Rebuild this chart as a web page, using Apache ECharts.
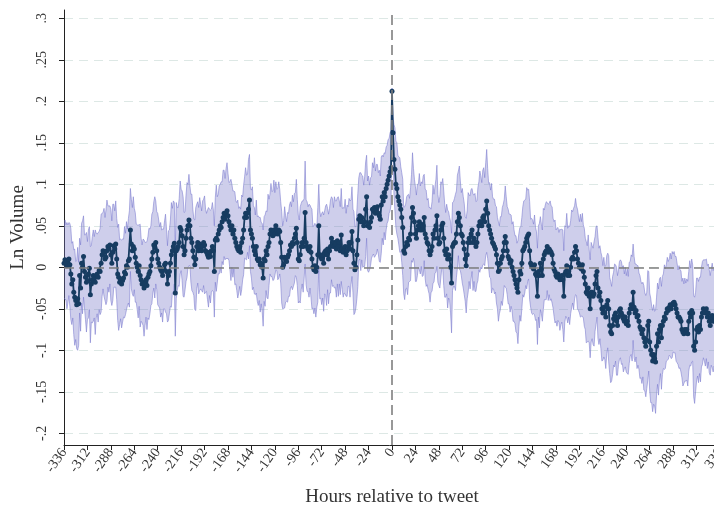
<!DOCTYPE html>
<html><head><meta charset="utf-8">
<script src="https://cdn.jsdelivr.net/npm/echarts@6/dist/echarts.min.js"></script>
<style>html,body{margin:0;padding:0;background:#fff}#chart{width:714px;height:513px}</style>
</head><body><div id="chart"></div>
<script>
// first hour of the series (hours relative to tweet)
const firstHour = -336;

// point estimates, one per hour from -336 to 336
const lnVolume = [
 0.005,0.009,0.006,0.002,0.004,0.010,0.003,-0.008,-0.020,-0.015,
 -0.030,-0.036,-0.040,-0.045,-0.038,-0.044,-0.010,-0.025,0.005,0.000,
 0.013,-0.005,-0.012,-0.018,-0.016,-0.008,-0.001,-0.033,-0.020,-0.015,
 -0.010,-0.012,-0.018,-0.010,-0.008,-0.012,-0.004,-0.005,0.005,0.015,
 0.020,0.018,0.010,0.012,0.020,0.025,0.022,0.027,0.015,0.005,
 0.018,0.026,0.022,0.028,0.010,-0.008,-0.012,-0.018,-0.014,-0.020,
 -0.016,-0.013,-0.006,-0.008,0.002,0.000,0.008,0.010,0.045,0.028,
 0.020,0.025,0.022,0.012,0.005,0.000,-0.005,0.002,-0.010,-0.015,
 -0.020,-0.018,-0.025,-0.020,-0.015,-0.022,-0.012,-0.008,-0.005,0.002,
 0.010,0.018,0.027,0.024,0.030,0.020,0.010,0.005,0.000,-0.003,
 -0.005,-0.010,-0.002,0.003,0.005,-0.005,-0.020,-0.010,-0.005,0.005,
 0.015,0.020,0.025,0.029,-0.031,
 0.020,0.022,0.025,0.030,0.048,0.045,0.038,0.025,0.015,0.020,
 0.035,0.045,0.050,0.057,0.050,0.035,0.030,0.020,0.012,0.003,
 0.010,0.025,0.030,0.020,0.028,0.025,0.020,0.025,0.030,0.027,
 0.020,0.018,0.015,0.012,0.018,0.013,0.020,0.025,0.020,-0.005,
 0.033,0.035,0.033,0.040,0.045,0.050,0.048,0.055,0.060,0.065,
 0.058,0.065,0.068,0.062,0.055,0.050,0.045,0.050,0.040,0.045,
 0.035,0.030,0.025,0.022,0.020,0.025,0.018,0.030,0.035,0.045,
 0.060,0.065,0.060,0.065,0.070,0.081,0.045,0.040,0.035,0.025,
 0.020,0.015,0.025,0.010,0.008,0.010,0.003,0.005,0.000,-0.013,
 0.010,0.008,0.020,0.015,0.025,0.030,
 0.040,0.045,0.040,0.038,0.045,0.040,0.050,0.045,0.040,0.045,
 0.043,0.030,0.012,0.000,0.003,0.012,0.010,0.007,0.012,0.015,
 0.020,0.027,0.025,0.030,0.028,0.035,0.040,0.047,0.030,0.010,
 0.008,0.015,0.025,0.030,0.025,0.035,0.066,0.030,0.025,0.022,
 0.020,0.025,0.018,0.010,0.000,-0.003,0.002,-0.005,0.000,0.015,
 0.050,0.015,0.012,0.010,0.015,0.005,0.018,0.020,0.015,0.022,
 0.010,0.020,0.025,0.035,0.030,0.025,0.030,0.028,0.022,0.032,
 0.025,0.030,0.020,0.039,0.022,0.018,0.020,0.025,0.015,0.020,
 0.025,0.030,0.022,0.030,0.043,0.020,0.005,-0.003,0.000,0.015,
 0.033,0.058,0.062,0.055,0.060,0.055,0.050,0.055,0.070,0.085,
 0.050,0.052,0.048,0.055,0.060,0.070,0.068,0.072,0.065,0.070,
 0.073,0.065,
 0.062,0.058,0.075,0.085,0.080,0.090,0.085,0.095,0.100,0.105,
 0.110,0.115,0.120,0.212,0.162,0.130,0.118,0.100,0.095,0.085,
 0.080,0.075,0.070,0.060,0.048,0.020,0.017,0.025,0.030,0.027,
 0.035,0.033,0.040,0.060,0.072,0.065,0.055,0.040,0.035,0.045,
 0.050,0.055,0.045,0.052,0.045,0.050,0.060,0.040,0.035,0.030,
 0.028,0.020,0.015,0.020,0.025,0.040,0.035,0.045,0.050,0.062,
 0.035,0.028,0.030,0.045,0.050,0.053,0.035,0.020,0.015,0.022,
 0.010,0.015,0.010,0.000,-0.019,0.025,0.028,0.030,0.030,0.040,
 0.055,0.065,0.060,0.050,0.040,0.038,0.030,0.022,0.010,0.002,
 0.015,0.030,0.035,0.030,0.040,0.045,0.030,0.035,0.030,0.025,
 0.030,0.040,0.050,0.055,0.055,0.050,0.060,0.062,
 0.055,0.070,0.080,0.065,0.050,0.045,0.040,0.035,0.030,0.028,
 0.025,0.022,0.015,0.005,-0.005,-0.003,0.005,0.010,0.013,0.020,
 0.030,0.037,0.030,0.020,0.013,0.010,0.005,0.008,0.000,-0.005,
 -0.010,-0.015,-0.020,-0.025,-0.030,-0.015,-0.005,-0.008,0.005,0.020,
 0.022,0.025,0.030,0.035,0.038,0.040,0.020,0.005,0.002,0.000,
 -0.002,0.003,-0.008,-0.010,-0.035,-0.005,-0.010,0.005,-0.002,-0.010,
 0.010,0.015,0.018,0.020,0.025,0.018,0.022,0.020,0.018,0.015,
 0.005,-0.002,-0.005,-0.010,-0.012,-0.008,-0.012,-0.015,-0.012,-0.010,
 -0.015,-0.035,-0.008,-0.005,0.002,-0.010,-0.005,-0.010,0.000,0.010,
 0.012,0.010,0.018,0.025,0.020,0.010,0.005,0.000,0.002,-0.002,
 0.003,-0.005,-0.012,-0.020,-0.030,-0.032,-0.025,-0.035,-0.050,-0.030,
 -0.030,-0.035,-0.032,
 -0.020,-0.010,-0.005,-0.025,-0.035,-0.030,-0.040,-0.050,-0.055,-0.048,
 -0.055,-0.060,-0.045,-0.040,-0.050,-0.070,-0.078,-0.080,-0.070,-0.062,
 -0.058,-0.055,-0.065,-0.070,-0.060,-0.052,-0.050,-0.055,-0.058,-0.062,
 -0.065,-0.060,-0.068,-0.065,-0.070,-0.055,-0.050,-0.045,-0.050,-0.030,
 -0.048,-0.055,-0.052,-0.060,-0.058,-0.065,-0.072,-0.075,-0.080,-0.075,
 -0.085,-0.090,-0.095,-0.088,-0.070,-0.065,-0.090,-0.100,-0.105,-0.113,
 -0.105,-0.110,-0.114,-0.095,-0.080,-0.090,-0.075,-0.070,-0.085,-0.070,
 -0.065,-0.060,-0.062,-0.055,-0.050,-0.052,-0.048,-0.045,-0.050,-0.045,
 -0.043,-0.042,-0.045,-0.050,-0.055,-0.060,-0.060,-0.062,-0.065,-0.075,
 -0.078,-0.080,-0.075,-0.078,-0.075,-0.080,-0.065,-0.055,-0.060,-0.052,
 -0.055,-0.095,-0.100,-0.090,-0.075,-0.072,-0.078,-0.070,-0.075,-0.060,
 -0.055,-0.050,-0.052,-0.055,-0.050,-0.060,-0.055,-0.065,-0.070,-0.060,
 -0.058,-0.065,-0.060,-0.062,-0.058,-0.065,-0.070,-0.060,-0.063
];

// half-width of the confidence band, one per hour
const ciHalfWidth = [
 0.042,0.048,0.045,0.052,0.047,0.044,0.050,0.055,0.049,0.046,
 0.051,0.058,0.047,0.053,0.062,0.050,0.045,0.052,0.048,0.056,
 0.049,0.044,0.051,0.060,0.047,0.053,0.050,0.058,0.046,0.052,
 0.055,0.049,0.063,0.051,0.048,0.054,0.047,0.052,0.059,0.050,
 0.046,0.053,0.050,0.057,0.061,0.049,0.052,0.047,0.055,0.051,
 0.058,0.050,0.046,0.052,0.049,0.056,0.064,0.051,0.048,0.053,
 0.050,0.047,0.055,0.049,0.053,0.046,0.051,0.058,0.050,0.054,
 0.052,0.060,0.049,0.054,0.047,0.051,0.056,0.049,0.062,0.050,
 0.047,0.052,0.058,0.050,0.045,0.053,0.049,0.055,0.051,0.048,
 0.054,0.049,0.052,0.061,0.050,0.047,0.055,0.052,0.049,0.057,
 0.050,0.056,0.048,0.053,0.059,0.051,0.046,0.054,0.050,0.052,
 0.063,0.051,0.055,0.049,0.052,0.058,0.050,0.047,0.053,0.056,
 0.049,0.054,0.060,0.051,0.047,0.052,0.057,0.050,0.055,0.048,
 0.053,0.058,0.050,0.046,0.054,0.062,0.051,0.049,0.052,0.056,
 0.051,0.048,0.055,0.052,0.059,0.050,0.047,0.054,0.060,0.052,
 0.056,0.050,0.053,0.049,0.055,0.051,0.064,0.052,0.048,0.053,
 0.050,0.055,0.048,0.057,0.052,0.049,0.054,0.058,0.051,0.047,
 0.053,0.061,0.050,0.052,0.047,0.056,0.050,0.053,0.059,0.051,
 0.048,0.052,0.057,0.050,0.054,0.049,0.055,0.051,0.047,0.060,
 0.055,0.050,0.053,0.062,0.049,0.052,0.048,0.056,0.051,0.054,
 0.050,0.057,0.049,0.053,0.058,0.051,0.055,0.048,0.052,0.063,
 0.052,0.048,0.056,0.051,0.054,0.060,0.050,0.053,0.049,0.055,
 0.058,0.051,0.049,0.055,0.050,0.053,0.061,0.052,0.048,0.054,
 0.050,0.055,0.052,0.048,0.057,0.051,0.054,0.050,0.059,0.052,
 0.053,0.049,0.058,0.052,0.050,0.055,0.048,0.062,0.051,0.054,
 0.051,0.056,0.050,0.054,0.060,0.049,0.053,0.051,0.055,0.048,
 0.057,0.050,0.053,0.049,0.055,0.052,0.058,0.050,0.054,0.061,
 0.049,0.054,0.051,0.056,0.050,0.053,0.047,0.055,0.052,0.058,
 0.052,0.060,0.050,0.053,0.056,0.049,0.054,0.051,0.057,0.050,
 0.055,0.048,0.053,0.058,0.051,0.054,0.050,0.062,0.052,0.049,
 0.053,0.056,0.050,0.052,0.059,0.051,0.055,0.049,0.054,0.057,
 0.050,0.054,0.058,0.051,0.053,0.049,0.056,0.052,0.060,0.051,
 0.054,0.051,0.049,0.055,0.052,0.058,0.050,0.053,0.048,0.052,
 0.050,0.047,0.049,0.045,0.047,0.045,0.004,0.020,0.042,0.050,
 0.052,0.055,0.050,0.053,0.057,0.051,0.054,0.058,0.052,0.056,
 0.051,0.055,0.060,0.053,0.050,0.056,0.052,0.066,0.054,0.051,
 0.057,0.052,0.055,0.050,0.058,0.053,0.051,0.056,0.060,0.052,
 0.054,0.058,0.051,0.055,0.052,0.057,0.050,0.054,0.059,0.053,
 0.052,0.056,0.061,0.053,0.050,0.055,0.058,0.051,0.054,0.057,
 0.056,0.051,0.054,0.059,0.052,0.050,0.055,0.060,0.053,0.051,
 0.053,0.058,0.052,0.056,0.051,0.062,0.054,0.050,0.057,0.055,
 0.055,0.051,0.057,0.053,0.060,0.052,0.056,0.054,0.050,0.058,
 0.052,0.059,0.054,0.050,0.056,0.053,0.061,0.055,0.052,0.057,
 0.058,0.053,0.056,0.062,0.054,0.051,0.057,0.053,0.066,0.055,
 0.054,0.057,0.052,0.058,0.055,0.060,0.053,0.056,0.051,0.059,
 0.056,0.052,0.061,0.055,0.053,0.057,0.054,0.059,0.055,0.052,
 0.060,0.055,0.053,0.058,0.054,0.062,0.056,0.053,0.057,0.055,
 0.053,0.058,0.056,0.052,0.061,0.055,0.054,0.059,0.053,0.057,
 0.057,0.054,0.060,0.056,0.053,0.058,0.055,0.063,0.056,0.054,
 0.055,0.061,0.054,0.057,0.059,0.053,0.058,0.055,0.060,0.056,
 0.058,0.054,0.057,0.062,0.055,0.059,0.056,0.054,0.061,0.057,
 0.056,0.060,0.055,0.058,0.054,0.063,0.057,0.055,0.059,0.056,
 0.059,0.055,0.061,0.056,0.058,0.054,0.060,0.057,0.055,0.062,
 0.057,0.062,0.056,0.059,0.055,0.061,0.058,0.064,0.056,0.059,
 0.060,0.056,0.058,0.063,0.057,0.059,0.055,0.061,0.058,0.056,
 0.058,0.063,0.057,0.060,0.056,0.062,0.059,0.057,0.064,0.058,
 0.061,0.057,0.059,0.056,0.062,0.058,0.065,0.060,0.057,0.059,
 0.059,0.062,0.058,0.064,0.057,0.060,0.058,0.063,0.059,0.061,
 0.057,0.060,0.063,0.058,0.061,0.059,0.056,0.062,0.060,0.058,
 0.062,0.058,0.060,0.057,0.063,0.059,0.061,0.058,0.066,0.060,
 0.059,0.063,0.058,0.061,0.060,0.057,0.062,0.059,0.061,0.064,
 0.061,0.058,0.062,0.059,0.057,0.063,0.060,0.058,0.062,0.059,
 0.058,0.062,0.060,0.064,0.059,0.061,0.058,0.063,0.060,0.057,
 0.062,0.059,0.061,0.058,0.065,0.060,0.062,0.059,0.061,0.063,
 0.060,0.063,0.059,0.062,0.058,0.061,0.064,0.060,0.062,0.059,
 0.061,0.058,0.063,0.060,0.062,0.059,0.061,0.064,0.060,0.062,
 0.059,0.062,0.060,0.058,0.063,0.061,0.059,0.062,0.060,0.061,
 0.060,0.062,0.059
];

// axis ticks
const xTickStep = 24;
const xMin = -336, xMax = 336;
const yTickValues = [-0.2, -0.15, -0.1, -0.05, 0, 0.05, 0.1, 0.15, 0.2, 0.25, 0.3];
const yMin = -0.2141, yMax = 0.31;

const hours = lnVolume.map((_, i) => firstHour + i);
const meanData = hours.map((h, i) => [h, lnVolume[i]]);

function fmtY(v) {
  const s = String(Math.round(v * 100) / 100);
  return s.replace(/^0\./, '.').replace(/^-0\./, '-.');
}

const bandFill = 'rgba(120,120,200,0.36)';
const bandEdge = 'rgba(120,120,205,0.55)';

function renderBand(params, api) {
  if (params.dataIndex !== 0) return null;
  const up = hours.map((h, i) => api.coord([h, lnVolume[i] + ciHalfWidth[i]]));
  const lo = hours.map((h, i) => api.coord([h, lnVolume[i] - ciHalfWidth[i]]));
  const poly = up.concat(lo.slice().reverse());
  return {
    type: 'group',
    children: [
      {type: 'polygon', shape: {points: poly}, style: {fill: bandFill, stroke: null}},
      {type: 'polyline', shape: {points: up}, style: {fill: null, stroke: bandEdge, lineWidth: 1}},
      {type: 'polyline', shape: {points: lo}, style: {fill: null, stroke: bandEdge, lineWidth: 1}}
    ]
  };
}

const serif = 'Liberation Serif, Times New Roman, serif';
const chart = echarts.init(document.getElementById('chart'), null, {renderer: 'canvas'});
chart.setOption({
  animation: false,
  backgroundColor: '#ffffff',
  grid: {left: 64, width: 656, top: 10, bottom: 68, containLabel: false, outerBoundsMode: 'none'},
  xAxis: {
    type: 'value', min: xMin, max: xMax, interval: xTickStep,
    name: 'Hours relative to tweet', nameLocation: 'middle', nameGap: 43,
    nameTextStyle: {fontFamily: serif, fontSize: 19, color: '#333'},
    axisLine: {show: true, onZero: false, lineStyle: {color: '#222', width: 1}},
    axisTick: {show: true, length: 5, lineStyle: {color: '#222'}},
    axisLabel: {rotate: 55, margin: 5, fontFamily: serif, fontSize: 14, color: '#333',
      showMinLabel: true, showMaxLabel: true, hideOverlap: false},
    splitLine: {show: false}
  },
  yAxis: {
    type: 'value', min: yMin, max: yMax,
    name: 'Ln Volume', nameLocation: 'middle', nameGap: 33,
    nameTextStyle: {fontFamily: serif, fontSize: 19, color: '#333'},
    axisLine: {show: true, onZero: false, lineStyle: {color: '#222', width: 1}},
    axisTick: {show: true, length: 5, customValues: yTickValues, lineStyle: {color: '#222'}},
    axisLabel: {customValues: yTickValues, rotate: 90, margin: 15, formatter: fmtY,
      fontFamily: serif, fontSize: 14, color: '#333'},
    splitLine: {show: true, lineStyle: {color: '#dde8e5', width: 1, type: [9, 6]}}
  },
  series: [
    {
      type: 'custom', data: meanData, z: 1, silent: true, clip: true,
      encode: {x: 0, y: 1},
      renderItem: renderBand
    },
    {
      type: 'line', data: [], z: 2, silent: true,
      markLine: {
        silent: true, symbol: ['none', 'none'], label: {show: false},
        lineStyle: {color: '#7f7f7f', width: 1.6, type: [10, 5]},
        data: [{xAxis: 0}, {yAxis: 0}]
      }
    },
    {
      type: 'line', data: meanData, z: 3, silent: true,
      symbol: 'circle', symbolSize: 5, showAllSymbol: true,
      lineStyle: {color: '#173c61', width: 1.8},
      itemStyle: {color: '#173c61'}
    }
  ]
});
</script>
</body></html>
